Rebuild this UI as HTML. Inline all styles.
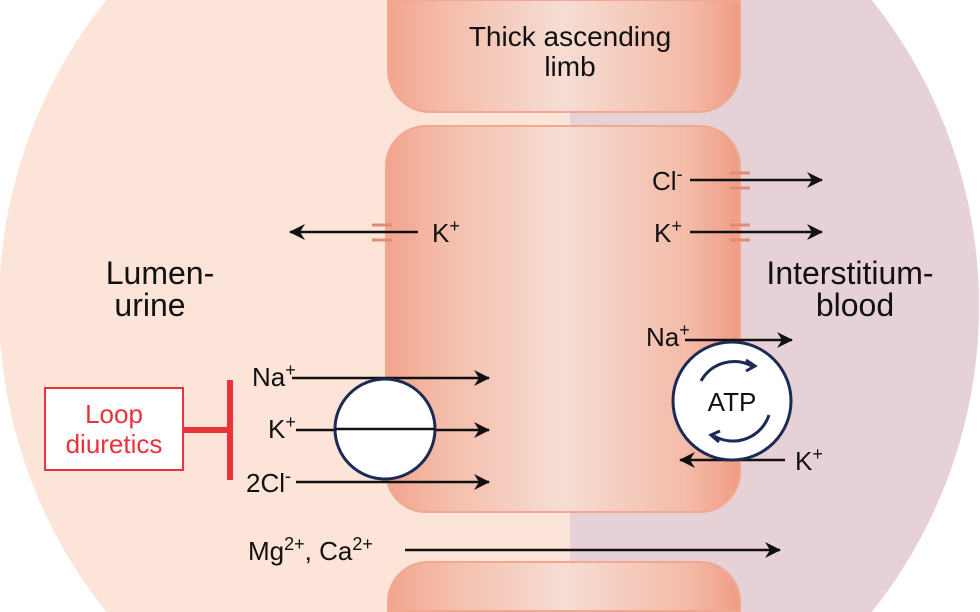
<!DOCTYPE html>
<html><head><meta charset="utf-8"><style>
html,body{margin:0;padding:0;background:#fff;width:980px;height:612px;overflow:hidden;}
svg{display:block;overflow:hidden;font-family:"Liberation Sans","DejaVu Sans",sans-serif;}
</style></head><body>
<svg width="980" height="612" viewBox="0 0 980 612">
<defs>
<clipPath id="circ"><circle cx="489" cy="306" r="490"/></clipPath>
<linearGradient id="tube" x1="0" x2="1" y1="0" y2="0">
<stop offset="0" stop-color="#f2a38c"/>
<stop offset="0.15" stop-color="#f4bba8"/>
<stop offset="0.5" stop-color="#f6ddd4"/>
<stop offset="0.85" stop-color="#f4bba8"/>
<stop offset="1" stop-color="#f09c84"/>
</linearGradient>
<marker id="ah" markerWidth="16" markerHeight="16" refX="15" refY="8" orient="auto" markerUnits="userSpaceOnUse">
<path d="M0,0 L16,8 L0,16 L5,8 Z" fill="#111"/></marker>
</defs>
<g clip-path="url(#circ)">
<rect x="0" y="0" width="570" height="612" fill="#fde4d8"/>
<rect x="570" y="0" width="410" height="612" fill="#e6d1d6"/>
</g>
<path d="M388,0 H740 V70 A42,42 0 0 1 698,112 H430 A42,42 0 0 1 388,70 Z" fill="url(#tube)" stroke="#f0a890" stroke-width="2"/>
<rect x="386" y="126" width="354" height="386" rx="40" fill="url(#tube)" stroke="#f0a890" stroke-width="2"/>
<path d="M388,611 V602 A40,40 0 0 1 428,562 H700 A40,40 0 0 1 740,602 V611 Z" fill="url(#tube)" stroke="#f0a890" stroke-width="2"/>
<g font-size="28" fill="#111" text-anchor="middle">
<text x="570" y="46">Thick ascending</text>
<text x="570" y="76">limb</text>
<text x="160" y="284" font-size="32">Lumen-</text>
<text x="150" y="316" font-size="32">urine</text>
<text x="850" y="284" font-size="32">Interstitium-</text>
<text x="855" y="316" font-size="32">blood</text>
</g>
<g stroke="#111" stroke-width="2.5" fill="none">
<line x1="418" y1="232" x2="290" y2="232" marker-end="url(#ah)"/>
<line x1="690" y1="180" x2="822" y2="180" marker-end="url(#ah)"/>
<line x1="690" y1="232" x2="822" y2="232" marker-end="url(#ah)"/>
<line x1="685" y1="340" x2="792" y2="340" marker-end="url(#ah)"/>
<line x1="785" y1="460" x2="680" y2="460" marker-end="url(#ah)"/>
<line x1="292" y1="378" x2="489" y2="378" marker-end="url(#ah)"/>
<line x1="296" y1="430" x2="489" y2="430" marker-end="url(#ah)"/>
<line x1="296" y1="482" x2="489" y2="482" marker-end="url(#ah)"/>
<line x1="405" y1="550" x2="780" y2="550" marker-end="url(#ah)"/>
</g>
<g stroke="#e08a78" stroke-width="3">
<line x1="372" y1="225" x2="392" y2="225"/><line x1="372" y1="240" x2="392" y2="240"/>
<line x1="730" y1="173" x2="750" y2="173"/><line x1="730" y1="188" x2="750" y2="188"/>
<line x1="730" y1="225" x2="750" y2="225"/><line x1="730" y1="240" x2="750" y2="240"/>
</g>
<g font-size="26" fill="#111">
<text x="432" y="242">K<tspan dy="-10" font-size="18">+</tspan></text>
<text x="652" y="190">Cl<tspan dy="-10" font-size="18">-</tspan></text>
<text x="654" y="242">K<tspan dy="-10" font-size="18">+</tspan></text>
<text x="646" y="346">Na<tspan dy="-10" font-size="18">+</tspan></text>
<text x="795" y="470">K<tspan dy="-10" font-size="18">+</tspan></text>
<text x="252" y="386">Na<tspan dy="-10" font-size="18">+</tspan></text>
<text x="268" y="438">K<tspan dy="-10" font-size="18">+</tspan></text>
<text x="246" y="492">2Cl<tspan dy="-10" font-size="18">-</tspan></text>
<text x="248" y="560">Mg<tspan dy="-10" font-size="18">2+</tspan><tspan dy="10">, Ca</tspan><tspan dy="-10" font-size="18">2+</tspan></text>
</g>
<g>
<circle cx="385" cy="429" r="50" fill="#fff" stroke="#1c2a55" stroke-width="3"/>
<line x1="335" y1="429" x2="435" y2="429" stroke="#111" stroke-width="2.5"/>
</g>
<g>
<circle cx="732" cy="401" r="59" fill="#fff" stroke="#1c2a55" stroke-width="3"/>
<text x="732" y="411" font-size="26" text-anchor="middle" fill="#111">ATP</text>
<path d="M701,381 A38,38 0 0,1 752,366" stroke="#1c2a55" stroke-width="3" fill="none"/>
<path d="M746,360 L755,366 L746,371" stroke="#1c2a55" stroke-width="3" fill="none"/>
<path d="M769,415 A38,38 0 0,1 714,436" stroke="#1c2a55" stroke-width="3" fill="none"/>
<path d="M720,431 L711,435 L719,442" stroke="#1c2a55" stroke-width="3" fill="none"/>
</g>
<g>
<rect x="45" y="388" width="138" height="82" fill="#fff" stroke="#e8333a" stroke-width="2"/>
<text x="114" y="423" font-size="26" fill="#e8333a" text-anchor="middle">Loop</text>
<text x="114" y="453" font-size="26" fill="#e8333a" text-anchor="middle">diuretics</text>
<line x1="183" y1="430" x2="230" y2="430" stroke="#e8333a" stroke-width="6"/>
<line x1="230" y1="380" x2="230" y2="480" stroke="#e8333a" stroke-width="6"/>
</g>
</svg>
</body></html>
